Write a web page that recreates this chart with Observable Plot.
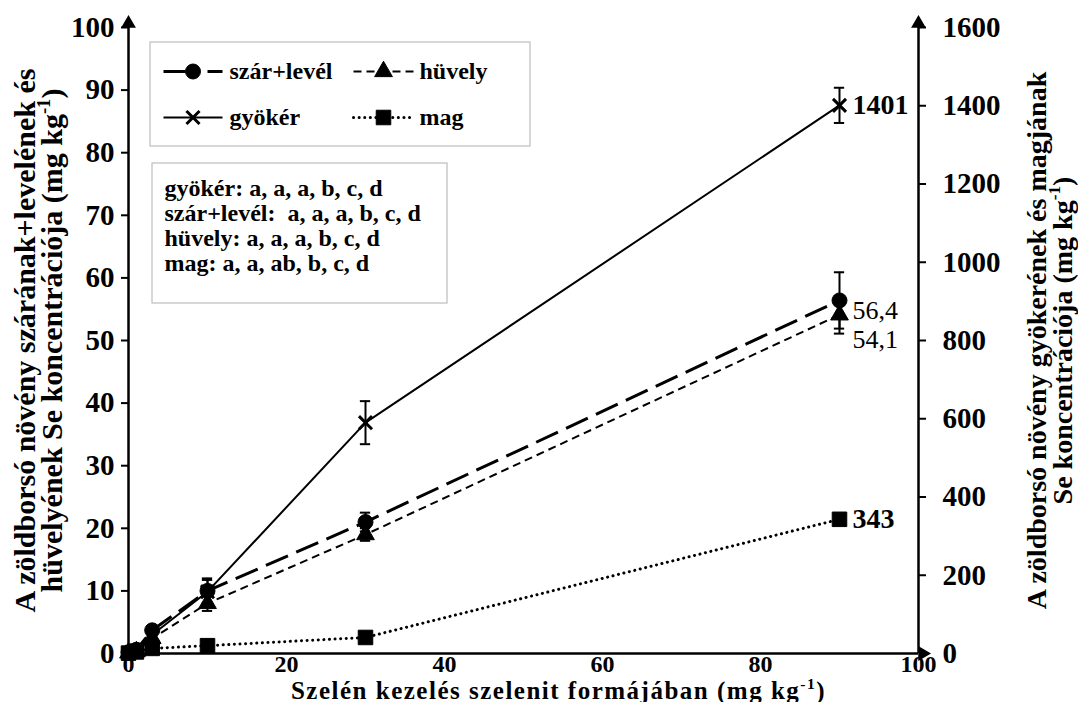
<!DOCTYPE html>
<html><head><meta charset="utf-8">
<script src="https://cdn.jsdelivr.net/npm/d3@7"></script>
<script src="https://cdn.jsdelivr.net/npm/@observablehq/plot@0.6"></script>
<style>body{margin:0;background:#fff}</style>
</head><body><div id="chart"></div>
<script>
// ---- data ----
const doses = [0, 1, 3, 10, 30, 90];
const szarLevel    = [0.2, 0.6, 3.7, 10.0, 21.0, 56.4];
const szarLevelErr = [0.05, 0.1, 0.4, 2.0, 1.5, 4.5];
const huvely       = [0.1, 0.3, 2.4, 8.0, 19.0, 54.1];
const huvelyErr    = [0.05, 0.1, 0.3, 1.2, 1.0, 3.0];
const gyoker       = [1, 8, 48, 158, 590, 1401];
const gyokerErr    = [0.5, 2, 8, 30, 55, 45];
const mag          = [1, 4, 13, 20, 41, 343];
const magErr       = [0.2, 0.5, 1, 2, 4, 10];
const leftTicks  = [0, 10, 20, 30, 40, 50, 60, 70, 80, 90, 100];
const rightTicks = [0, 200, 400, 600, 800, 1000, 1200, 1400, 1600];
const xTicks     = [0, 20, 40, 60, 80, 100];
const letterLines = ["gyökér: a, a, a, b, c, d", "szár+levél:\u00A0 a, a, a, b, c, d", "hüvely: a, a, a, b, c, d", "mag: a, a, ab, b, c, d"];
const leftTitle  = "A zöldborsó növény szárának+levelének és\nhüvelyének Se koncentrációja (mg kg{-1})";
const rightTitle = "A zöldborsó növény gyökerének és magjának\nSe koncentrációja (mg kg{-1})";
const xTitle     = "Szelén kezelés szelenit formájában (mg kg{-1})";
const endLabels  = [
  {series: "gyökér", text: "1401", bold: true, shift: 0},
  {series: "szár+levél", text: "56,4", bold: false, shift: 10},
  {series: "hüvely", text: "54,1", bold: false, shift: 25},
  {series: "mag", text: "343", bold: true, shift: 0}
];

const RIGHT_MAX = 1600, LEFT_MAX = 100, K = RIGHT_MAX / LEFT_MAX;
const FONT = "'Liberation Serif', 'Times New Roman', serif";

const series = [
  {name: "szár+levél", axis: "left",  values: szarLevel, err: szarLevelErr, symbol: "circle",   r: 7.5, dash: "24,9", lDash: "22,22", width: 3, cap: "butt", leg: [0, 0]},
  {name: "hüvely",     axis: "left",  values: huvely,    err: huvelyErr,    symbol: "triangle", r: 6.6, dash: "8,5",  lDash: "8,5", width: 2, cap: "butt", leg: [1, 0]},
  {name: "gyökér",     axis: "right", values: gyoker,    err: gyokerErr,    symbol: "times",    r: 6,   dash: null,   lDash: null, width: 2, cap: "butt", leg: [0, 1]},
  {name: "mag",        axis: "right", values: mag,       err: magErr,       symbol: "square",   r: 8.2, dash: "0.1,5.5", lDash: "0.1,5.5", width: 3, cap: "round", leg: [1, 1]}
];
const rows = series.flatMap(s => doses.map((d, i) => {
  const f = s.axis === "left" ? 1 : 1 / K;
  return {series: s.name, dose: d, value: s.values[i], y: s.values[i] * f, e: s.err[i] * f};
}));

// layout helpers (pixel frame -> data units)
const W = 1078, H = 702, ML = 128, MR = 160, MT = 27, MB = 49;
const X0 = ML, X1 = W - MR, Y0 = H - MB, Y1 = MT;
const xd = px => (px - X0) / (X1 - X0) * 100;
const yd = py => (Y0 - py) / (Y0 - Y1) * 100;

const marks = [];
for (const s of series) {
  const data = rows.filter(r => r.series === s.name);
  marks.push(Plot.line(data, {x: "dose", y: "y", stroke: "black", strokeWidth: s.width,
    strokeDasharray: s.dash ?? undefined, strokeLinecap: s.cap}));
}
for (const s of series) {
  const data = rows.filter(r => r.series === s.name);
  marks.push(Plot.ruleX(data, {x: "dose", y1: d => d.y - d.e, y2: d => d.y + d.e, stroke: "black", strokeWidth: 2}));
  marks.push(Plot.ruleY(data, {y: d => d.y - d.e, x1: d => d.dose - 0.65, x2: d => d.dose + 0.65, stroke: "black", strokeWidth: 2}));
  marks.push(Plot.ruleY(data, {y: d => d.y + d.e, x1: d => d.dose - 0.65, x2: d => d.dose + 0.65, stroke: "black", strokeWidth: 2}));
  marks.push(Plot.dot(data, s.symbol === "times"
    ? {x: "dose", y: "y", symbol: "times", r: s.r, stroke: "black", strokeWidth: 3}
    : {x: "dose", y: "y", symbol: s.symbol, r: s.r, fill: "black", stroke: "black", strokeWidth: 1, strokeLinejoin: "round"}));
}
for (const l of endLabels) {
  const last = rows.filter(r => r.series === l.series).at(-1);
  marks.push(Plot.text([last], {x: "dose", y: "y", text: () => l.text, dx: 13, dy: l.shift, textAnchor: "start",
    fontSize: l.bold ? 28 : 26, fontWeight: l.bold ? "bold" : "normal", fontFamily: FONT, fill: "black"}));
}
// axes lines + arrowheads
marks.push(Plot.ruleX([0, 100], {y1: 0, y2: 100, stroke: "black", strokeWidth: 2.5}));
marks.push(Plot.ruleY([0], {x1: 0, x2: 100, stroke: "black", strokeWidth: 2.5}));
marks.push(Plot.dot([0, 100], {x: d => d, y: () => 100, symbol: "triangle", r: 5.5, fill: "black", dy: -4}));
marks.push(Plot.dot([100], {x: d => d, y: () => 0, symbol: "triangle", r: 5.5, fill: "black", rotate: 90, dx: 4}));
// axes
marks.push(Plot.axisY({anchor: "left", ticks: leftTicks, tickSize: 7, tickPadding: 7, strokeWidth: 2,
  label: null, fontSize: 29, fontWeight: "bold", fontFamily: FONT}));
marks.push(Plot.axisY({anchor: "right", ticks: rightTicks.map(v => v / K), tickFormat: v => String(Math.round(v * K)),
  tickSize: 7, tickPadding: 17, strokeWidth: 2, label: null, fontSize: 29, fontWeight: "bold", fontFamily: FONT}));
marks.push(Plot.axisX({anchor: "bottom", ticks: xTicks, tickSize: 0, tickPadding: 1, label: null,
  fontSize: 24, fontWeight: "bold", fontFamily: FONT}));
// titles
marks.push(Plot.text([leftTitle], {frameAnchor: "left", dx: -89, rotate: -90, text: d => d, fontSize: 30,
  textAnchor: "middle", lineAnchor: "middle", fontWeight: "bold", fontFamily: FONT, lineHeight: 0.9, fill: "black"}));
marks.push(Plot.text([rightTitle], {frameAnchor: "right", dx: 132, rotate: -90, text: d => d, fontSize: 28,
  textAnchor: "middle", lineAnchor: "middle", fontWeight: "bold", fontFamily: FONT, lineHeight: 0.92, fill: "black"}));
marks.push(Plot.text([xTitle], {frameAnchor: "bottom", dy: 37, dx: 35, text: d => d, fontSize: 25,
  textAnchor: "middle", lineAnchor: "middle", fontWeight: "bold", fontFamily: FONT, fill: "black"}));
// legend box
marks.push(Plot.rect([0], {x1: xd(150), x2: xd(530), y1: yd(42), y2: yd(146), fill: "white", stroke: "#bdbdbd", strokeWidth: 1.2}));
const legCols = [{l0: 163, l1: 222, tx: 229}, {l0: 353, l1: 413, tx: 419}];
const legRows = [71, 117];
for (const s of series) {
  const c = legCols[s.leg[0]], ry = legRows[s.leg[1]];
  marks.push(Plot.link([s], {x1: xd(c.l0), x2: xd(c.l1), y1: yd(ry), y2: yd(ry), stroke: "black", strokeWidth: s.width,
    strokeDasharray: s.lDash ?? undefined, strokeLinecap: s.cap}));
  marks.push(Plot.dot([s], s.symbol === "times"
    ? {x: xd((c.l0 + c.l1) / 2), y: yd(ry), symbol: "times", r: s.r, stroke: "black", strokeWidth: 3}
    : {x: xd((c.l0 + c.l1) / 2), y: yd(ry), symbol: s.symbol, r: s.r, fill: "black", stroke: "black", strokeWidth: 1}));
  marks.push(Plot.text([s], {x: xd(c.tx), y: yd(ry), text: d => d.name, textAnchor: "start", fontSize: 24,
    fontWeight: "bold", fontFamily: FONT, fill: "black"}));
}
// letters box
marks.push(Plot.rect([0], {x1: xd(152), x2: xd(447), y1: yd(163), y2: yd(303), fill: "white", stroke: "#bdbdbd", strokeWidth: 1.2}));
marks.push(Plot.text(letterLines, {x: xd(164), y: (d, i) => yd(188 + i * 25), text: d => d, textAnchor: "start",
  fontSize: 24, fontWeight: "bold", fontFamily: FONT, fill: "black"}));

const plot = Plot.plot({
  width: W, height: H,
  marginLeft: ML, marginRight: MR, marginTop: MT, marginBottom: MB,
  x: {domain: [0, 100]},
  y: {domain: [0, LEFT_MAX]},
  style: {fontFamily: FONT, color: "black", background: "white", overflow: "visible"},
  marks
});

// superscript "-1" and slight tracking for the x title
d3.select(plot).selectAll("text, tspan").each(function () {
  const node = this;
  if ([...node.childNodes].some(c => c.nodeType === 1)) return;
  const t = node.textContent;
  if (t.startsWith("Szelén")) node.setAttribute("letter-spacing", "1.5");
  const k = t.indexOf("{-1}");
  if (k < 0) return;
  node.textContent = t.slice(0, k);
  let fs = 27;
  for (let p = node; p && p.getAttribute; p = p.parentNode) {
    const v = p.getAttribute("font-size");
    if (v) { fs = parseFloat(v); break; }
  }
  const sup = document.createElementNS("http://www.w3.org/2000/svg", "tspan");
  sup.setAttribute("dy", -0.4 * fs);
  sup.setAttribute("font-size", 0.62 * fs);
  sup.textContent = "-1";
  node.appendChild(sup);
  const rest = document.createElementNS("http://www.w3.org/2000/svg", "tspan");
  rest.setAttribute("dy", 0.4 * fs);
  rest.textContent = t.slice(k + 4);
  node.appendChild(rest);
});
document.getElementById("chart").appendChild(plot);
</script>
</body></html>
